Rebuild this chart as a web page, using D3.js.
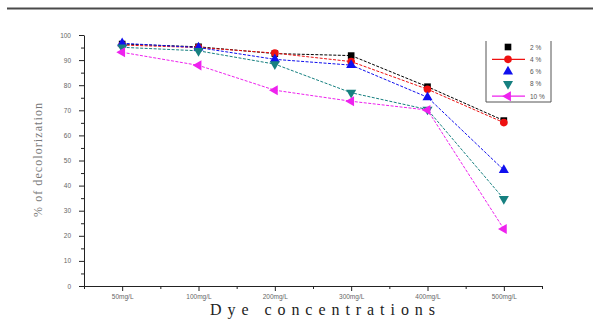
<!DOCTYPE html>
<html>
<head>
<meta charset="utf-8">
<script src="https://cdn.jsdelivr.net/npm/d3@7"></script>
<style>
  body { margin: 0; background: #fff; }
  svg { display: block; }
</style>
</head>
<body>
<svg class="line-chart"></svg>
<script>
const categories = ['50mg/L', '100mg/L', '200mg/L', '300mg/L', '400mg/L', '500mg/L'];
const yTicks = [0, 10, 20, 30, 40, 50, 60, 70, 80, 90, 100];
const seriesNames = ['2 %', '4 %', '6 %', '8 %', '10 %'];
const s2 = [96.4, 95.3, 92.6, 91.8, 79.4, 65.9];
const s4 = [96.0, 95.0, 92.8, 89.4, 78.4, 65.1];
const s6 = [96.7, 95.0, 90.3, 88.0, 75.2, 46.2];
const s8 = [95.1, 93.7, 88.4, 77.0, 70.3, 34.7];
const s10 = [93.1, 87.9, 78.0, 73.6, 70.1, 22.7];

const svgWidth = 593;
const svgHeight = 320;

const svg = d3.select('.line-chart')
  .attr('width', svgWidth)
  .attr('height', svgHeight);

// thin rule across the top of the figure
svg.append('line')
  .attr('x1', 7).attr('x2', 593)
  .attr('y1', 8.5).attr('y2', 8.5)
  .attr('stroke', '#4a4a4a')
  .attr('stroke-width', 2);

const x = d3.scaleLinear().domain([0.5, 6.5]).range([84, 542]);
const y = d3.scaleLinear().domain([0, 100]).range([286, 35]);

const tickFont = 'Liberation Sans, Arial, sans-serif';

// x axis
const xMajor = svg.append('g')
  .attr('transform', 'translate(0,286)')
  .call(d3.axisBottom(x)
    .tickValues(d3.range(1, 7))
    .tickSize(5)
    .tickSizeOuter(0)
    .tickFormat(d => categories[d - 1]));
xMajor.select('.domain').attr('stroke', '#222');
xMajor.selectAll('.tick line').attr('stroke', '#222');
xMajor.selectAll('.tick text')
  .attr('font-family', tickFont)
  .attr('font-size', 6.5)
  .attr('fill', '#666')
  .attr('y', 8);

const xMinor = svg.append('g')
  .attr('transform', 'translate(0,286)')
  .call(d3.axisBottom(x)
    .tickValues(d3.range(0.5, 7, 1))
    .tickSize(3)
    .tickFormat(''));
xMinor.select('.domain').remove();
xMinor.selectAll('.tick line').attr('stroke', '#222');

// y axis
const yMajor = svg.append('g')
  .attr('transform', 'translate(84,0)')
  .call(d3.axisLeft(y)
    .tickValues(yTicks)
    .tickSize(5)
    .tickSizeOuter(0));
yMajor.select('.domain').attr('stroke', '#222');
yMajor.selectAll('.tick line').attr('stroke', '#222');
yMajor.selectAll('.tick text')
  .attr('font-family', tickFont)
  .attr('font-size', 6.5)
  .attr('fill', '#666')
  .attr('x', -13);

const yMinor = svg.append('g')
  .attr('transform', 'translate(84,0)')
  .call(d3.axisLeft(y)
    .tickValues(d3.range(5, 100, 10))
    .tickSize(3)
    .tickFormat(''));
yMinor.select('.domain').remove();
yMinor.selectAll('.tick line').attr('stroke', '#222');

// axis titles
svg.append('text')
  .attr('x', 210).attr('y', 314.5)
  .attr('font-family', 'Liberation Serif, Times New Roman, serif')
  .attr('font-size', 16)
  .attr('fill', '#222')
  .attr('textLength', 225)
  .attr('lengthAdjust', 'spacing')
  .text('Dye concentrations');

svg.append('text')
  .attr('transform', 'translate(42,217) rotate(-90)')
  .attr('font-family', 'Liberation Serif, Times New Roman, serif')
  .attr('font-size', 12)
  .attr('fill', '#777')
  .attr('textLength', 114)
  .attr('lengthAdjust', 'spacing')
  .text('% of decolorization');

// series
const series = [
  { name: seriesNames[0], values: s2, color: '#000000', symbol: d3.symbolSquare, rotate: 0, size: 44, legendLine: false },
  { name: seriesNames[1], values: s4, color: '#ee1111', symbol: d3.symbolCircle, rotate: 0, size: 46, legendLine: true },
  { name: seriesNames[2], values: s6, color: '#1010ee', symbol: d3.symbolTriangle, rotate: 0, size: 44, legendLine: false },
  { name: seriesNames[3], values: s8, color: '#168080', symbol: d3.symbolTriangle, rotate: 180, size: 44, legendLine: false },
  { name: seriesNames[4], values: s10, color: '#ee22ee', symbol: d3.symbolTriangle, rotate: -90, size: 44, legendLine: true }
];

const line = d3.line()
  .x((d, i) => x(i + 1))
  .y(d => y(d));

const plot = svg.append('g');

series.forEach(s => {
  plot.append('path')
    .datum(s.values)
    .attr('fill', 'none')
    .attr('stroke', s.color)
    .attr('stroke-width', 1)
    .attr('stroke-dasharray', '3,1.5')
    .attr('d', line);
});

series.forEach(s => {
  plot.selectAll(null)
    .data(s.values)
    .join('path')
    .attr('d', d3.symbol().type(s.symbol).size(s.size))
    .attr('transform', (d, i) => `translate(${x(i + 1)},${y(d)}) rotate(${s.rotate})`)
    .attr('fill', s.color);
});

// legend
const legend = svg.append('g');
legend.append('path')
  .attr('d', 'M486,41 V102 H551 V41')
  .attr('fill', 'none')
  .attr('stroke', '#555')
  .attr('stroke-width', 1);

series.forEach((s, i) => {
  const ly = 47 + i * 12.3;
  if (s.legendLine) {
    legend.append('line')
      .attr('x1', 492).attr('x2', 525)
      .attr('y1', ly).attr('y2', ly)
      .attr('stroke', s.color)
      .attr('stroke-width', 1.3);
  }
  legend.append('path')
    .attr('d', d3.symbol().type(s.symbol).size(s.size)())
    .attr('transform', `translate(508,${ly}) rotate(${s.rotate})`)
    .attr('fill', s.color);
  legend.append('text')
    .attr('x', 530).attr('y', ly + 2.5)
    .attr('font-family', tickFont)
    .attr('font-size', 6.5)
    .attr('fill', '#555')
    .text(s.name);
});
</script>
</body>
</html>
